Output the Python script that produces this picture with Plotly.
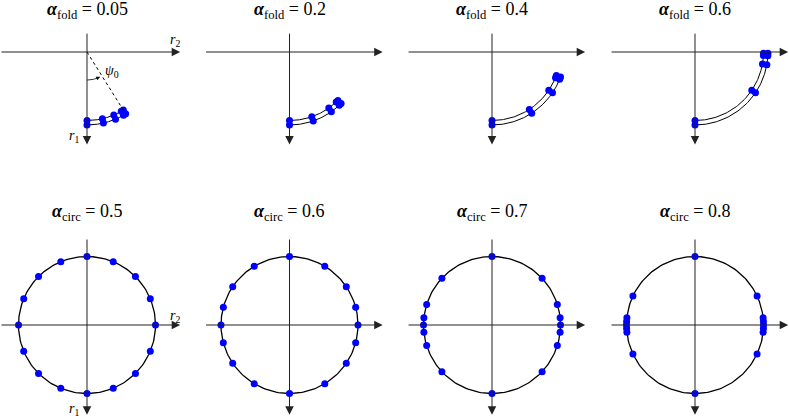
import plotly.graph_objects as go
import numpy as np

# folded configurations: angle (deg) from r1 axis towards r2 axis
fold_alpha = [0.05, 0.2, 0.4, 0.6]
fold_angles = [
    [0, 13, 23, 30, 32],
    [0, 19, 35, 43, 45],
    [0, 33, 56, 68, 70],
    [0, 56, 80, 87, 89],
]
# circular configurations: angle (deg) measured from r2 axis
circ_alpha = [0.5, 0.6, 0.7, 0.8]
circ_angles = [
    [0, 22.5, 45, 67.5, 90, 112.5, 135, 157.5, 180, 202.5, 225, 247.5, 270, 292.5, 315, 337.5],
    [0, 15, 34, 59, 90, 121, 146, 165, 180, 195, 214, 239, 270, 301, 326, 345],
    [0, 6, 17.5, 43, 90, 137, 162.5, 174, 180, 186, 197.5, 223, 270, 317, 342.5, 354],
    [0, 3, 6, 25, 90, 155, 174, 177, 180, 183, 186, 205, 270, 335, 354, 357],
]
psi0 = 32

W, H = 789, 418
S = 68.5  # px per unit radius
panel_x = [87, 289.5, 492, 695]
row_y = [52, 325]
row_top = [20, 228]
row_bot = [165, 418]

SERIF = "Liberation Serif"
BLUE = "#0000ff"

fig = go.Figure()
axes = {}
annos = []

def ax_names(i):
    n = "" if i == 0 else str(i + 1)
    return "x" + n, "y" + n, n

def arrow(xr, yr, x0, y0, x1, y1):
    annos.append(dict(xref=xr, yref=yr, axref=xr, ayref=yr, x=x1, y=y1, ax=x0, ay=y0,
                      showarrow=True, arrowhead=2, arrowsize=1.7, arrowwidth=1,
                      arrowcolor="#222", text="", standoff=0, startstandoff=0))

for i in range(8):
    r, c = divmod(i, 4)
    xr, yr, n = ax_names(i)
    ox, oy = panel_x[c], row_y[r]
    x0, x1 = max(0, ox - 100), min(W, ox + 100)
    y0, y1 = row_top[r], row_bot[r]
    axes["xaxis" + n] = dict(domain=[x0 / W, x1 / W], range=[(x0 - ox) / S, (x1 - ox) / S],
                             visible=False, fixedrange=True, anchor=yr)
    axes["yaxis" + n] = dict(domain=[(H - y1) / H, (H - y0) / H], range=[-(y1 - oy) / S, (oy - y0) / S],
                             visible=False, fixedrange=True, anchor=xr)

    # coordinate axes
    xl = -ox / S if c == 0 else -1.24
    arrow(xr, yr, xl, 0, 1.36, 0)
    if r == 0:
        arrow(xr, yr, 0, 0.29, 0, -1.35)
    else:
        arrow(xr, yr, 0, 1.27, 0, -1.31)

    if r == 0:
        ang = np.array(fold_angles[c], dtype=float)
        th = np.radians(np.linspace(0, ang.max(), 80))
        for rad in (1.0, 1.065):
            fig.add_trace(go.Scatter(x=rad * np.sin(th), y=-rad * np.cos(th), mode="lines",
                                     line=dict(color="black", width=1), xaxis=xr, yaxis=yr,
                                     hoverinfo="skip"))
        a = np.radians(ang)
        for rad in (1.0, 1.065):
            fig.add_trace(go.Scatter(x=rad * np.sin(a), y=-rad * np.cos(a), mode="markers",
                                     marker=dict(color=BLUE, size=7), xaxis=xr, yaxis=yr,
                                     cliponaxis=False))
        title = "<i><b>α</b></i><sub>fold</sub> = %s" % fold_alpha[c]
        ty = 10
    else:
        th = np.linspace(0, 2 * np.pi, 200)
        fig.add_trace(go.Scatter(x=np.cos(th), y=np.sin(th), mode="lines",
                                 line=dict(color="black", width=1.3), xaxis=xr, yaxis=yr,
                                 hoverinfo="skip"))
        a = np.radians(circ_angles[c])
        fig.add_trace(go.Scatter(x=np.cos(a), y=np.sin(a), mode="markers",
                                 marker=dict(color=BLUE, size=7), xaxis=xr, yaxis=yr,
                                 cliponaxis=False))
        title = "<i><b>α</b></i><sub>circ</sub> = %s" % circ_alpha[c]
        ty = 212

    annos.append(dict(xref="paper", yref="paper", x=ox / W, y=1 - ty / H, text=title,
                      showarrow=False, xanchor="center", yanchor="middle",
                      font=dict(family=SERIF, size=18, color="black")))

    if c == 0:
        annos.append(dict(xref=xr, yref=yr, x=1.28, y=0.17 if r == 0 else 0.13,
                          text="<i>r</i><sub>2</sub>", showarrow=False,
                          font=dict(family=SERIF, size=14, color="black")))
        annos.append(dict(xref=xr, yref=yr, x=-0.19, y=-1.24,
                          text="<i>r</i><sub>1</sub>", showarrow=False,
                          font=dict(family=SERIF, size=14, color="black")))

# psi0 construction in first panel
p = np.radians(psi0)
fig.add_trace(go.Scatter(x=[0, 1.07 * np.sin(p)], y=[0, -1.07 * np.cos(p)], mode="lines",
                         line=dict(color="black", width=1, dash="dot"), xaxis="x", yaxis="y"))
th = np.radians(np.linspace(0, 24, 30))
fig.add_trace(go.Scatter(x=0.41 * np.sin(th), y=-0.41 * np.cos(th), mode="lines",
                         line=dict(color="black", width=0.8), xaxis="x", yaxis="y"))
t1, t2 = np.radians(22), np.radians(28)
annos.append(dict(xref="x", yref="y", axref="x", ayref="y",
                  x=0.41 * np.sin(t2), y=-0.41 * np.cos(t2),
                  ax=0.41 * np.sin(t1), ay=-0.41 * np.cos(t1),
                  showarrow=True, arrowhead=2, arrowsize=1, arrowwidth=0.8,
                  arrowcolor="black", text="", standoff=0))
annos.append(dict(xref="x", yref="y", x=0.37, y=-0.28, text="<i>ψ</i><sub>0</sub>",
                  showarrow=False, font=dict(family=SERIF, size=14, color="black")))

fig.update_layout(width=W, height=H, margin=dict(l=0, r=0, t=0, b=0),
                  paper_bgcolor="white", plot_bgcolor="white", showlegend=False,
                  annotations=annos, **axes)
fig.write_html("out.html", config={"displayModeBar": False},
               post_script="document.body.style.margin='0';")
